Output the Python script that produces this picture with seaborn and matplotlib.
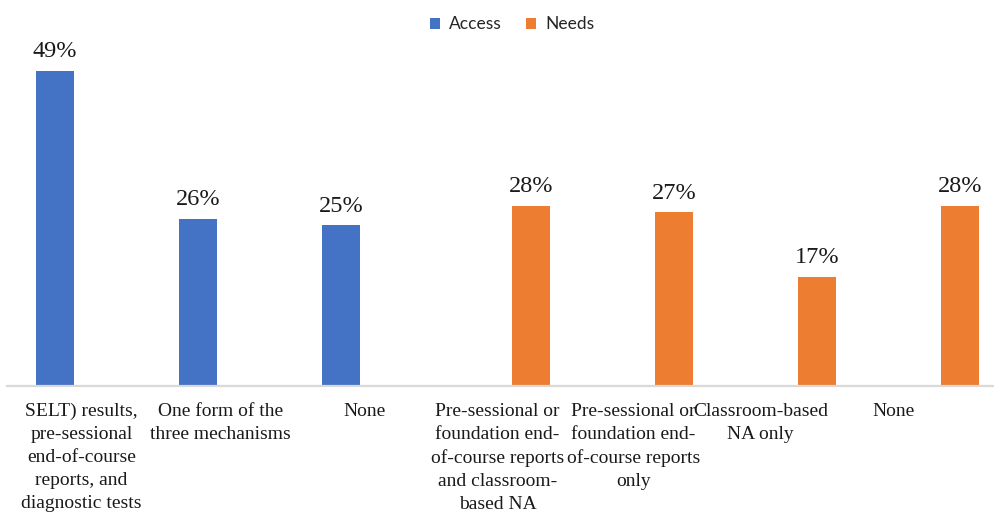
import matplotlib
matplotlib.use("Agg")
import matplotlib.pyplot as plt
import seaborn as sns
import pandas as pd

# Category labels (wrapped as they appear under the axis)
categories = [
    "SELT) results,\npre-sessional\nend-of-course\nreports, and\ndiagnostic tests",
    "One form of the\nthree mechanisms",
    "None",
    "Pre-sessional or\nfoundation end-\nof-course reports\nand classroom-\nbased NA",
    "Pre-sessional or\nfoundation end-\nof-course reports\nonly",
    "Classroom-based\nNA only",
    "None",
]
groups = ["Access", "Access", "Access", "Needs", "Needs", "Needs", "Needs"]
values = [49, 26, 25, 28, 27, 17, 28]
series = ["Access", "Needs"]
colors = ["#4472C4", "#ED7D31"]
# where each wrapped category label sits along the x axis
label_pos = [0.02, 0.99, 2.0, 2.93, 3.88, 4.77, 5.70]

df = pd.DataFrame({"slot": list(range(len(values))), "group": groups, "value": values})

sns.set_style("white")
plt.rcParams["font.family"] = ["Liberation Serif", "DejaVu Serif"]

W, H = 994, 516
fig = plt.figure(figsize=(W / 100, H / 100), dpi=100)
ax = fig.add_axes([7 / W, 130 / H, 1001 / W, 386 / H])

sns.barplot(
    data=df, x="slot", y="value", hue="group",
    order=list(range(len(values))), hue_order=series, palette=colors,
    dodge=True, width=0.657, gap=0.19, saturation=1, linewidth=0, ax=ax,
)

ax.set_xlim(-0.5, 6.5)
ax.set_ylim(0, 60)

for cont in ax.containers:
    texts = ax.bar_label(cont, fmt="{:.0f}%", padding=6.2,
                         fontsize=17.5, color="#1a1a1a",
                         family="Liberation Serif")
    for t in texts:
        t.set_clip_on(False)

ax.set_xticks(label_pos, categories)
ax.tick_params(axis="x", length=0, pad=12, labelsize=14, labelcolor="#1a1a1a")
for lab in ax.get_xticklabels():
    lab.set_linespacing(1.46)
ax.set_yticks([])
ax.set_xlabel("")
ax.set_ylabel("")

for side in ["left", "top", "right"]:
    ax.spines[side].set_visible(False)
ax.spines["bottom"].set_color("#d9d9d9")
ax.spines["bottom"].set_linewidth(1.6)

handles, labels = ax.get_legend_handles_labels()
ax.legend(
    handles, labels, loc="center", bbox_to_anchor=(0.515, 0.953),
    bbox_transform=fig.transFigure, ncol=2, frameon=False,
    prop={"family": "Lato", "size": 12.5},
    handlelength=0.6, handleheight=0.6, handletextpad=0.5,
    columnspacing=1.4, labelcolor="#262626",
)

fig.savefig("out.png", dpi=100)
